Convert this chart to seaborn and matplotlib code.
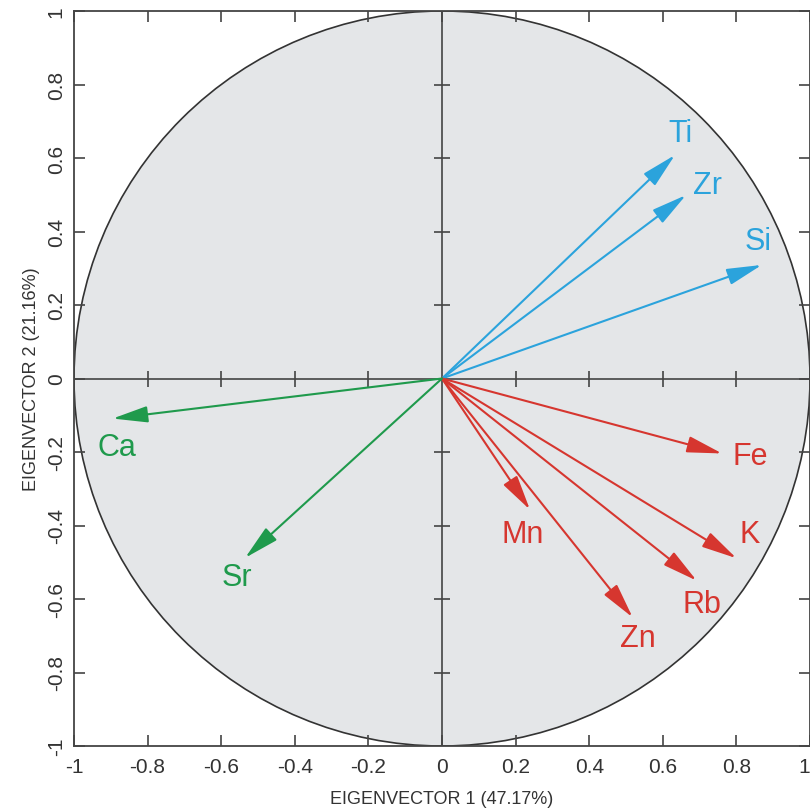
import numpy as np
import matplotlib.pyplot as plt
import matplotlib.patches as mpatches
import seaborn as sns

# ── Data: PCA loadings (eigenvector 1 / eigenvector 2) ──────────────────────
elements = ["Ti", "Zr", "Si", "Fe", "K", "Rb", "Zn", "Mn", "Ca", "Sr"]
ev1 = [0.633, 0.663, 0.869, 0.761, 0.800, 0.692, 0.518, 0.239, -0.895, -0.535]
ev2 = [0.608, 0.499, 0.309, -0.204, -0.489, -0.550, -0.650, -0.357, -0.109, -0.488]
groups = ["blue", "blue", "blue", "red", "red", "red", "red", "red", "green", "green"]
ticks = [-1, -0.8, -0.6, -0.4, -0.2, 0, 0.2, 0.4, 0.6, 0.8, 1]
tick_labels = ["-1", "-0.8", "-0.6", "-0.4", "-0.2", "0", "0.2", "0.4", "0.6", "0.8", "1"]

# label offsets from arrow tip, in pixels
LABEL_OFF = {"Ti": (5, 22), "Zr": (22, 10), "Si": (-4, 24), "Fe": (28, -3),
             "K": (13, 24), "Rb": (5, -23), "Zn": (5, -21), "Mn": (-7, -24),
             "Ca": (4, -28), "Sr": (-8, -19)}

COLORS = {"blue": "#2ba3dc", "red": "#d6362f", "green": "#1f9a4c"}
AXIS_C = "#444444"

sns.set_theme(style="ticks")
plt.rcParams["font.family"] = ["Liberation Sans", "DejaVu Sans"]

fig = plt.figure(figsize=(8.1, 8.12), dpi=100)
ax = fig.add_axes([74 / 810, 1 - 747 / 812, 736 / 810, 735 / 812])

# correlation circle
circle = mpatches.Circle((0, 0), 1, facecolor="#e4e6e8", edgecolor="#333333",
                         linewidth=1.2, zorder=0)
ax.add_patch(circle)

# centre axes with crossing ticks
ax.axhline(0, color=AXIS_C, linewidth=1.2, zorder=1)
ax.axvline(0, color=AXIS_C, linewidth=1.2, zorder=1)
inner = [t for t in ticks if t not in (-1, 0, 1)]
ax.plot(inner, [0] * len(inner), linestyle="none", marker="|",
        markersize=11, markeredgewidth=1.2, color=AXIS_C, zorder=1)
ax.plot([0] * len(inner), inner, linestyle="none", marker="_",
        markersize=11, markeredgewidth=1.2, color=AXIS_C, zorder=1)

# loading arrows
for el, x, y, g in zip(elements, ev1, ev2, groups):
    c = COLORS[g]
    ax.annotate("", xy=(x, y), xytext=(0, 0),
                arrowprops=dict(arrowstyle="-|>,head_length=1.2,head_width=0.28",
                                color=c, lw=1.5, shrinkA=0, shrinkB=0,
                                mutation_scale=18),
                zorder=3)
    dx, dy = LABEL_OFF[el]
    ax.annotate(el, xy=(x, y), xytext=(dx, dy), textcoords="offset pixels",
                ha="center", va="center", fontsize=22, color=c, zorder=4)

ax.set_xlim(-1, 1)
ax.set_ylim(-1, 1)
ax.set_xticks(ticks)
ax.set_xticklabels(tick_labels)
ax.set_yticks(ticks)
ax.set_yticklabels(tick_labels, rotation=90, va="center")
ax.tick_params(axis="both", direction="in", length=8, width=1.2, color=AXIS_C,
               labelsize=15, labelcolor="#333333", top=True, right=True)
ax.tick_params(axis="x", pad=8)
ax.tick_params(axis="y", pad=6)
# keep the last x label inside the picture
ax.get_xticklabels()[-1].set_horizontalalignment("right")
for s in ax.spines.values():
    s.set_color(AXIS_C)
    s.set_linewidth(1.3)
ax.set_facecolor("white")

ax.set_xlabel("EIGENVECTOR 1 (47.17%)", fontsize=13, color="#333333", labelpad=10)
ax.set_ylabel("EIGENVECTOR 2 (21.16%)", fontsize=13, color="#333333", labelpad=5)

fig.savefig("out.png", dpi=100)
plt.close(fig)
